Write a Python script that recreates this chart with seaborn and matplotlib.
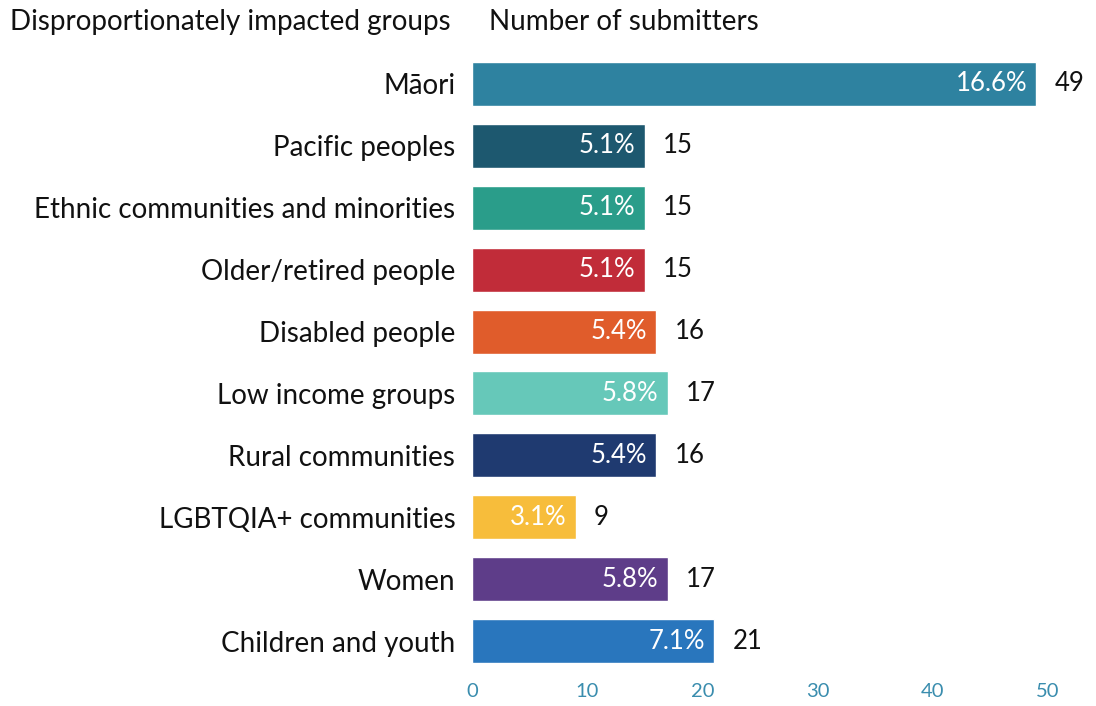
import matplotlib
matplotlib.use("Agg")
import matplotlib.pyplot as plt
import seaborn as sns
import pandas as pd

groups = [
    "Māori",
    "Pacific peoples",
    "Ethnic communities and minorities",
    "Older/retired people",
    "Disabled people",
    "Low income groups",
    "Rural communities",
    "LGBTQIA+ communities",
    "Women",
    "Children and youth",
]
submitters = [49, 15, 15, 15, 16, 17, 16, 9, 17, 21]
shares = ["16.6%", "5.1%", "5.1%", "5.1%", "5.4%", "5.8%", "5.4%", "3.1%", "5.8%", "7.1%"]
colors = ["#2E82A0", "#1D586F", "#2A9D8A", "#C12C39", "#E05C2B",
          "#66C8B9", "#1F3A70", "#F7BD3B", "#5E3D89", "#2976BD"]
x_ticks = [0, 10, 20, 30, 40, 50]

df = pd.DataFrame({"group": groups, "count": submitters})

sns.set_theme(style="white")
plt.rcParams["font.family"] = ["Lato", "DejaVu Sans"]

fig = plt.figure(figsize=(10.96, 7.06), dpi=100)
ax = fig.add_axes([472 / 1096, 1 - 672 / 706, (1048 - 472) / 1096, (672 - 53) / 706])

sns.barplot(data=df, x="count", y="group", hue="group",
            palette=dict(zip(groups, colors)), legend=False,
            width=0.71, saturation=1, ax=ax)

ax.set_xlim(0, 50)
ax.set_ylim(len(groups) - 0.5, -0.5)
ax.set_xticks(x_ticks)
ax.tick_params(axis="x", colors="#3A8DAE", labelsize=14.5, length=0, pad=8)
ax.tick_params(axis="y", labelsize=20, length=0, pad=12, labelcolor="#111111")
ax.set_xlabel("")
ax.set_ylabel("")
for s in ax.spines.values():
    s.set_visible(False)

for i, (v, pct) in enumerate(zip(submitters, shares)):
    ax.text(v - 0.8, i, pct, ha="right", va="center", color="white", fontsize=18.5)
    ax.text(v + 1.6, i, str(v), ha="left", va="center", color="#111111", fontsize=18.5)

fig.text(10 / 1096, 1 - 22 / 706, "Disproportionately impacted groups",
         ha="left", va="center", fontsize=20, color="#111111")
fig.text(489 / 1096, 1 - 22 / 706, "Number of submitters",
         ha="left", va="center", fontsize=20, color="#111111")

fig.savefig("out.png", dpi=100)
